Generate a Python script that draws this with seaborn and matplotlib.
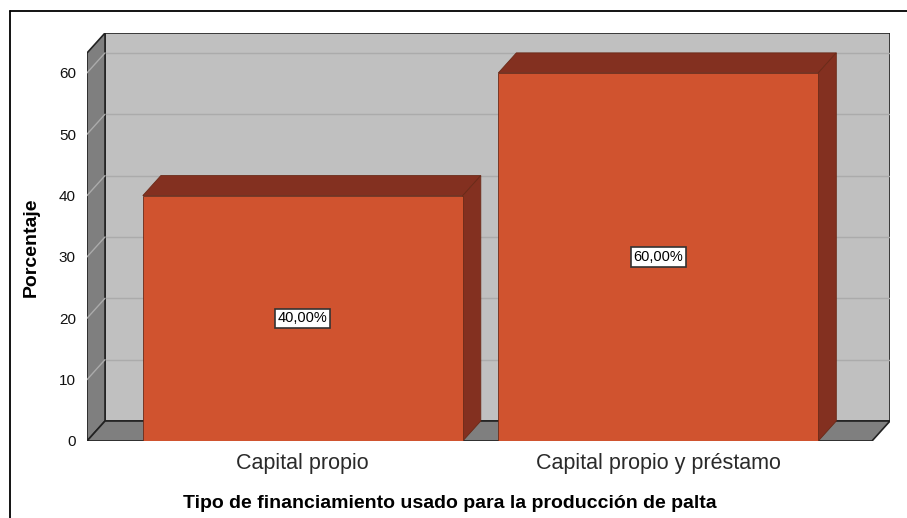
import matplotlib
matplotlib.use("Agg")
import matplotlib.pyplot as plt
import seaborn as sns
import pandas as pd
from matplotlib.patches import Polygon, Rectangle
from matplotlib.lines import Line2D

categories = ["Capital propio", "Capital propio y préstamo"]
values = [40.0, 60.0]
labels = ["40,00%", "60,00%"]
yticks = [0, 10, 20, 30, 40, 50, 60]

sns.set_theme(style="white")
plt.rcParams['font.family'] = ['Liberation Sans', 'DejaVu Sans']

W, H = 907, 518
fig = plt.figure(figsize=(W / 100, H / 100), dpi=100)
# axes covering the front plane + depth (pixels 87..890 x, 33..441 y)
ax = fig.add_axes([87 / W, 1 - 441 / H, (890 - 87) / W, (441 - 33) / H])

df = pd.DataFrame({"cat": categories, "val": values})
bw = 0.9
sns.barplot(data=df, x="cat", y="val", ax=ax, color="#D0532F", width=bw,
            edgecolor="#6a2a18", linewidth=0.6, saturation=1, zorder=5)

x0, x1f = -0.607, 1.601
ymax = 66.5
dx, dy = 0.0507, 3.26
ax.set_xlim(x0, x1f + dx)
ax.set_ylim(0, ymax)

wall = "#C0C0C0"
side = "#7F7F7F"
edge = "#222222"
# back wall
ax.add_patch(Rectangle((x0 + dx, dy), x1f - x0, ymax - dy, facecolor=wall,
                       edgecolor=edge, linewidth=1.2, zorder=0))
# left wall
ax.add_patch(Polygon([(x0, 0), (x0 + dx, dy), (x0 + dx, ymax), (x0, ymax - dy)],
                     closed=True, facecolor=side, edgecolor=edge, linewidth=1.2, zorder=1))
# floor
ax.add_patch(Polygon([(x0, 0), (x1f, 0), (x1f + dx, dy), (x0 + dx, dy)],
                     closed=True, facecolor=side, edgecolor=edge, linewidth=1.2, zorder=1))
# gridlines
for t in yticks[1:]:
    ax.add_line(Line2D([x0 + dx, x1f + dx], [t + dy, t + dy], color="#ABABAB",
                       linewidth=1.0, zorder=0.5))
    ax.add_line(Line2D([x0, x0 + dx], [t, t + dy], color="#ABABAB",
                       linewidth=1.0, zorder=1.5))

# 3D faces of bars
dark = "#833020"
for i, v in enumerate(values):
    l, r = i - bw / 2, i + bw / 2
    ax.add_patch(Polygon([(l, v), (l + dx, v + dy), (r + dx, v + dy), (r, v)],
                         closed=True, facecolor=dark, edgecolor="#6a2a18",
                         linewidth=0.6, zorder=4))
    ax.add_patch(Polygon([(r, 0), (r + dx, dy), (r + dx, v + dy), (r, v)],
                         closed=True, facecolor=dark, edgecolor="#6a2a18",
                         linewidth=0.6, zorder=4))
    ax.text(i, v / 2, labels[i], ha="center", va="center", fontsize=10.5,
            color="black", zorder=10,
            bbox=dict(boxstyle="square,pad=0.18", facecolor="white",
                      edgecolor="#333333", linewidth=1.2))

for s in ax.spines.values():
    s.set_visible(False)
ax.set_yticks(yticks)
ax.set_yticklabels([str(t) for t in yticks], fontsize=11, color="#111111")
ax.tick_params(axis="y", length=0, pad=8)
ax.tick_params(axis="x", length=0, pad=9, labelsize=15.5, labelcolor="#2a2a2a")
ax.set_xlabel("Tipo de financiamiento usado para la producción de palta",
              fontsize=14, fontweight="bold", color="black")
ax.set_ylabel("Porcentaje", fontsize=14, fontweight="bold", color="black")
ax.xaxis.set_label_coords((450 - 87) / 803, -(503 - 441) / 408)
ax.xaxis.label.set_va("center")
ax.yaxis.set_label_coords(-(87 - 31) / 803, (441 - 247) / 408)
ax.yaxis.label.set_va("center")
ax.grid(False)
ax.set_facecolor("none")

# outer frame
fig.add_artist(Line2D([10 / W, 1], [1 - 11 / H, 1 - 11 / H], color="black",
                      linewidth=1.3, transform=fig.transFigure))
fig.add_artist(Line2D([10 / W, 10 / W], [0, 1 - 11 / H], color="black",
                      linewidth=1.3, transform=fig.transFigure))

fig.savefig("out.png", dpi=100)
